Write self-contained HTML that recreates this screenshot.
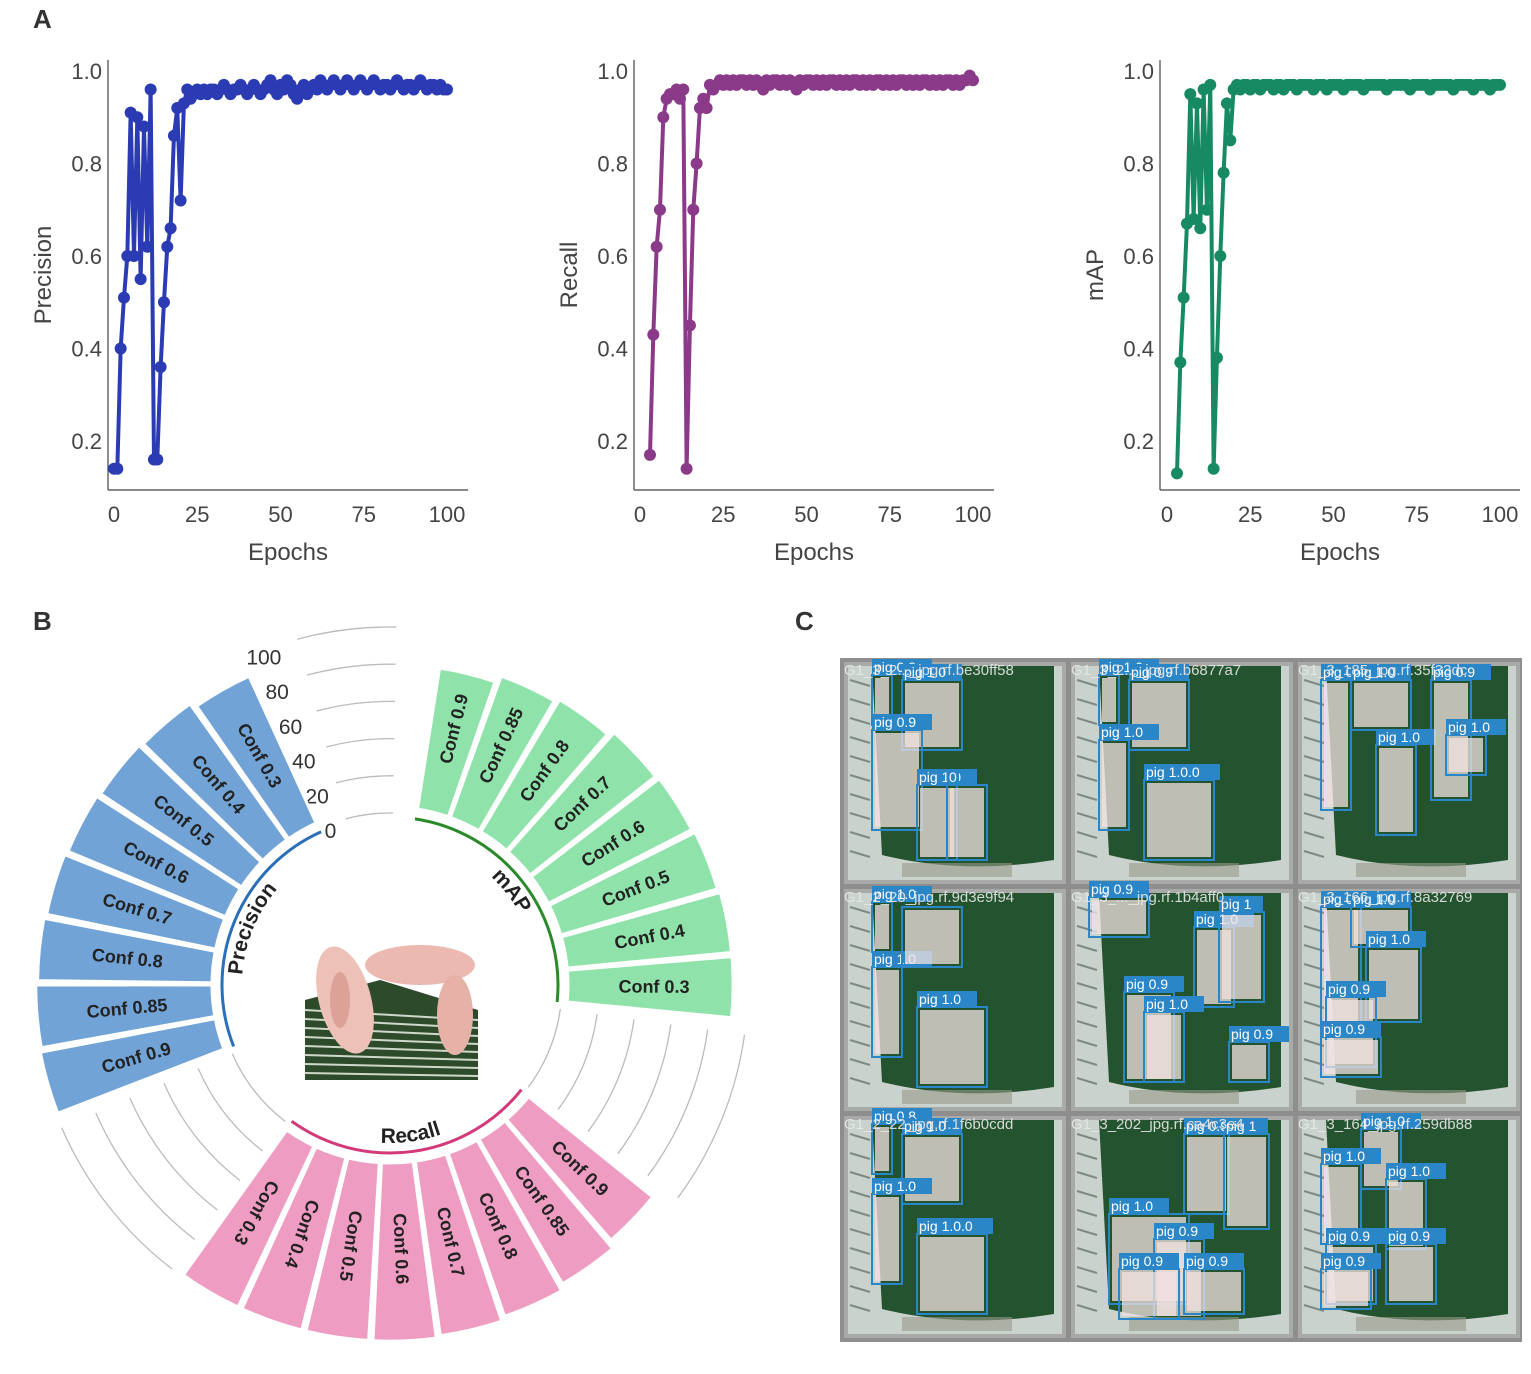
<!DOCTYPE html>
<html><head><meta charset="utf-8"><style>
body{margin:0;background:#fff;}
svg{display:block;font-family:"Liberation Sans","DejaVu Sans",sans-serif;}
</style></head><body>
<svg id="fig" width="1531" height="1374" viewBox="0 0 1531 1374">
<text x="33" y="28" font-size="26" font-weight="bold" fill="#333">A</text>
<text x="33" y="630" font-size="26" font-weight="bold" fill="#333">B</text>
<text x="795" y="630" font-size="26" font-weight="bold" fill="#333">C</text>
<g id="panelA"></g>
<g id="panelB"></g>
<g id="panelC"></g>
</svg>
<script>
const NS="http://www.w3.org/2000/svg";
const epochTicks=[0,25,50,75,100];
const yTicks=[0.2,0.4,0.6,0.8,1.0];
const precisionStart=0;
const precisionValues=[0.14,0.14,0.40,0.51,0.60,0.91,0.60,0.90,0.55,0.88,0.62,0.96,0.16,0.16,0.36,0.50,0.62,0.66,0.86,0.92,0.72,0.93,0.96,0.94,0.95,0.96,0.95,0.96,0.95,0.96,0.96,0.95,0.96,0.97,0.96,0.95,0.96,0.96,0.97,0.96,0.95,0.96,0.97,0.96,0.95,0.96,0.97,0.98,0.96,0.95,0.97,0.96,0.98,0.97,0.95,0.94,0.96,0.97,0.95,0.96,0.97,0.96,0.98,0.97,0.96,0.97,0.98,0.97,0.96,0.97,0.98,0.97,0.96,0.97,0.98,0.97,0.96,0.97,0.98,0.97,0.96,0.97,0.97,0.96,0.97,0.98,0.97,0.96,0.97,0.97,0.96,0.97,0.98,0.97,0.96,0.97,0.97,0.96,0.97,0.96,0.96];
const recallStart=3;
const recallValues=[0.17,0.43,0.62,0.70,0.90,0.94,0.95,0.95,0.96,0.94,0.96,0.14,0.45,0.70,0.80,0.92,0.94,0.92,0.97,0.96,0.97,0.98,0.97,0.98,0.97,0.98,0.97,0.98,0.98,0.97,0.98,0.97,0.98,0.97,0.96,0.98,0.97,0.98,0.98,0.97,0.98,0.97,0.98,0.97,0.96,0.98,0.97,0.98,0.98,0.97,0.98,0.97,0.98,0.97,0.98,0.98,0.97,0.98,0.97,0.98,0.97,0.98,0.98,0.97,0.98,0.97,0.98,0.97,0.98,0.98,0.97,0.98,0.97,0.98,0.97,0.98,0.98,0.97,0.98,0.97,0.98,0.97,0.98,0.98,0.97,0.98,0.97,0.98,0.97,0.98,0.98,0.97,0.98,0.97,0.98,0.98,0.99,0.98];
const mapStart=3;
const mapValues=[0.13,0.37,0.51,0.67,0.95,0.68,0.93,0.66,0.96,0.70,0.97,0.14,0.38,0.60,0.78,0.93,0.85,0.96,0.97,0.96,0.97,0.97,0.96,0.97,0.97,0.96,0.97,0.97,0.97,0.96,0.97,0.97,0.96,0.97,0.97,0.97,0.96,0.97,0.97,0.97,0.97,0.96,0.97,0.97,0.97,0.96,0.97,0.97,0.97,0.97,0.96,0.97,0.97,0.97,0.97,0.97,0.96,0.97,0.97,0.97,0.97,0.97,0.97,0.96,0.97,0.97,0.97,0.97,0.97,0.97,0.96,0.97,0.97,0.97,0.97,0.97,0.96,0.97,0.97,0.97,0.97,0.97,0.97,0.96,0.97,0.97,0.97,0.97,0.97,0.96,0.97,0.97,0.97,0.97,0.96,0.97,0.97,0.97];

const groupNames=["mAP","Recall","Precision"];
const confLabels=["Conf 0.9","Conf 0.85","Conf 0.8","Conf 0.7","Conf 0.6","Conf 0.5","Conf 0.4","Conf 0.3"];
const mapBarValues=[80,84,86,89,90,91,92,92];
const recallBarValues=[89,93,96,98,99,99,99,99];
const precisionBarValues=[99,98,97,96,95,94,93,90];
const radialTicks=[0,20,40,60,80,100];

function el(tag,attrs,parent,text){const e=document.createElementNS(NS,tag);for(const k in attrs)e.setAttribute(k,attrs[k]);if(text!==undefined)e.textContent=text;parent.appendChild(e);return e;}

// ---------- Panel A ----------
const A=document.getElementById('panelA');
const charts=[
 {ax:108,x0:114,label:"Precision",color:"#2b3bb3",start:precisionStart,vals:precisionValues,name:"precision"},
 {ax:634,x0:640,label:"Recall",color:"#8b3a8a",start:recallStart,vals:recallValues,name:"recall"},
 {ax:1160,x0:1167,label:"mAP",color:"#178a63",start:mapStart,vals:mapValues,name:"map"}];
charts.forEach(c=>{
 const g=el('g',{},A);
 
 
 const xs=e=>c.x0+e*3.33;
 const ys=v=>71+(1.0-v)*462.5;
 const ya=el('line',{x1:c.ax,y1:60,x2:c.ax,y2:490,stroke:"#444","stroke-width":1.2},g);
 
 const xa=el('line',{x1:c.ax,y1:490,x2:c.ax+360,y2:490,stroke:"#444","stroke-width":1.2},g);
 
 yTicks.forEach(t=>{const tx=el('text',{x:c.ax-6,y:ys(t)+8,"font-size":22,fill:"#444","text-anchor":"end"},g,t.toFixed(1));
  });
 epochTicks.forEach(t=>{const tx=el('text',{x:xs(t),y:522,"font-size":22,fill:"#444","text-anchor":"middle"},g,String(t));
  });
 const xt=el('text',{x:c.ax+180,y:560,"font-size":24,fill:"#444","text-anchor":"middle"},g,"Epochs");
 
 const yt=el('text',{x:0,y:0,"font-size":24,fill:"#444","text-anchor":"middle",transform:`translate(${c.ax-57},275) rotate(-90)`},g,c.label);
 
 const pts=c.vals.map((v,i)=>[xs(c.start+i),ys(v)]);
 const ln=el('polyline',{points:pts.map(p=>p.join(',')).join(' '),fill:"none",stroke:c.color,"stroke-width":4,"stroke-linejoin":"round"},g);
 
 pts.forEach(p=>{const d=el('circle',{cx:p[0],cy:p[1],r:6,fill:c.color},g);
  });
});

// ---------- Panel B ----------
const B=document.getElementById('panelB');
const cx=390,cy=985,rIn=172;
const rv=v=>rIn+v*1.86;
const slot=360/33;
function pt(r,a){const t=a*Math.PI/180;return [cx+r*Math.sin(t),cy-r*Math.cos(t)];}
function arc(r,a1,a2){const p1=pt(r,a1),p2=pt(r,a2);const large=Math.abs(a2-a1)>180?1:0;const sw=a2>a1?1:0;return `M${p1[0]},${p1[1]} A${r},${r} 0 ${large} ${sw} ${p2[0]},${p2[1]}`;}
function sector(r1,r2,a1,a2){const p1=pt(r1,a1),p2=pt(r2,a1),p3=pt(r2,a2),p4=pt(r1,a2);return `M${p1} L${p2} A${r2},${r2} 0 0 1 ${p3} L${p4} A${r1},${r1} 0 0 0 ${p1}Z`;}
const gaps=[[-22,3],[96,128.5],[215.5,248.5]];
gaps.forEach((gp,gi)=>radialTicks.forEach(t=>{
 const a=el('path',{d:arc(rv(t),gp[0]+(gi==0?7:2),gp[1]-2),fill:"none",stroke:"#bbb","stroke-width":1.3},B);
 }));
radialTicks.forEach(t=>{const p=pt(rv(t)-6,-21);
 const tx=el('text',{x:p[0],y:p[1]+8,"font-size":21,fill:"#333","text-anchor":"middle"},B,String(t));
 });
const groups=[
 {name:"map",vals:mapBarValues,fill:"#8fe3aa",arc:"#2a8a2a",start:14},
 {name:"recall",vals:recallBarValues,fill:"#ee9cc2",arc:"#d23a7a",start:14+11*slot},
 {name:"precision",vals:precisionBarValues,fill:"#72a3d6",arc:"#2a6fb8",start:14+22*slot}];
groups.forEach((gr,gi)=>{
 gr.vals.forEach((v,i)=>{
  const a=gr.start+i*slot;
  const s=el('path',{d:sector(rIn+6,rv(v),a-slot/2+0.35,a+slot/2-0.35),fill:gr.fill,stroke:"#fff","stroke-width":3},B);
  
  const p=pt(rIn+92,a);let rot=a-90;if(a>225)rot+=180;
  const tx=el('text',{x:p[0],y:p[1],"font-size":18,"font-weight":"bold",fill:"#222","text-anchor":"middle","dominant-baseline":"central",transform:`rotate(${rot} ${p[0]} ${p[1]})`},B,confLabels[i]);
  
 });
 const a1=gr.start-slot/2,a2=gr.start+7.5*slot;
 const ga=el('path',{d:arc(168,a1,a2),fill:"none",stroke:gr.arc,"stroke-width":3},B);
 
 const mid=(a1+a2)/2;const id='tp'+gi;
 if(gr.name==="recall"){el('path',{id:id,d:arc(158,mid+60,mid-60),fill:"none"},B);}
 else{el('path',{id:id,d:arc(148,mid-60,mid+60),fill:"none"},B);}
 const t=el('text',{"font-size":21,"font-weight":"bold",fill:"#222"},B);
 
 el('textPath',{href:'#'+id,startOffset:"50%","text-anchor":"middle"},t,groupNames[gi]);
});
const pic=el('g',{},B);
el('rect',{x:305,y:945,width:173,height:135,fill:"#fff"},pic);
el('path',{d:"M305,1000 L380,980 L478,1010 L478,1080 L305,1080Z",fill:"#2d4a2a"},pic);
for(let i=0;i<8;i++)el('line',{x1:305,y1:1010+i*9,x2:478,y2:1020+i*8,stroke:"#cfd8c8","stroke-width":2},pic);
el('ellipse',{cx:345,cy:1000,rx:26,ry:55,fill:"#eec1b8",transform:"rotate(-15 345 1000)"},pic);
el('ellipse',{cx:420,cy:965,rx:55,ry:20,fill:"#ebb9b0"},pic);
el('ellipse',{cx:455,cy:1015,rx:18,ry:40,fill:"#e6b2a8"},pic);
el('ellipse',{cx:340,cy:1000,rx:10,ry:28,fill:"#c98478",opacity:0.5},pic);

// ---------- Panel C ----------
const C=document.getElementById('panelC');
el('rect',{x:840,y:658,width:682,height:684,fill:"#8e8e8e"},C);
const titles=["G1_3_2..._jpg.rf.be30ff58","G1_3_2..._jpg.rf.b6877a7","G1_3_185_jpg.rf.35f33dc","G1_2_20_jpg.rf.9d3e9f94","G1_3_..._jpg.rf.1b4aff0","G1_3_166_jpg.rf.8a32769","G1_2_22_jpg.rf.1f6b0cdd","G1_3_202_jpg.rf.ca4c3e4","G1_3_164_jpg.rf.259db88"];
const boxes=[
 [[30,15,20,50,"pig 0.9"],[60,20,60,70,"pig 1.0"],[30,70,50,100,"pig 0.9"],[75,125,40,75,"pig 1.0"],[105,125,40,75,"0"]],
 [[30,15,20,50,"pig 1.0"],[60,20,60,70,"pig 0.9"],[30,80,30,90,"pig 1.0"],[75,120,70,80,"pig 1.0.0"]],
 [[25,20,30,130,"pig 0.9"],[55,20,60,50,"pig 1.0"],[80,85,40,90,"pig 1.0"],[135,20,40,120,"pig 0.9"],[150,75,40,40,"pig 1.0"]],
 [[30,15,20,50,"pig 1.0"],[30,80,30,90,"pig 1.0"],[75,120,70,80,"pig 1.0"],[60,20,60,60,""]],
 [[20,10,60,40,"pig 0.9"],[125,40,40,80,"pig 1.0"],[150,25,45,90,"pig 1"],[55,105,50,90,"pig 0.9"],[75,125,40,70,"pig 1.0"],[160,155,40,40,"pig 0.9"]],
 [[25,20,40,130,"pig 0.9"],[55,20,60,40,"pig 1.0"],[70,60,55,75,"pig 1.0"],[30,110,50,70,"pig 0.9"],[25,150,60,40,"pig 0.9"]],
 [[30,10,20,50,"pig 0.8"],[60,20,60,70,"pig 1.0"],[30,80,30,90,"pig 1.0"],[75,120,70,80,"pig 1.0.0"]],
 [[115,20,45,80,"pig 0.9"],[155,20,45,95,"pig 1"],[40,100,80,90,"pig 1.0"],[85,125,50,80,"pig 0.9"],[50,155,60,50,"pig 0.9"],[115,155,60,45,"pig 0.9"]],
 [[65,15,40,60,"pig 1.0"],[25,50,40,80,"pig 1.0"],[90,65,40,70,"pig 1.0"],[30,130,50,60,"pig 0.9"],[90,130,50,60,"pig 0.9"],[25,155,50,40,"pig 0.9"]]];
for(let r=0;r<3;r++)for(let c=0;c<3;c++){
 const x=842+c*227,y=660+r*227,k=r*3+c;
 const g=el('g',{},C);
 el('rect',{x:x+2,y:y+2,width:222,height:222,fill:"#a8aaa8"},g);
 el('rect',{x:x+6,y:y+6,width:214,height:214,fill:"#c9d2cd"},g);
 el('path',{d:`M${x+30},${y+6} L${x+212},${y+6} L${x+212},${y+200} Q${x+120},${y+215} ${x+40},${y+195} Z`,fill:"#24532f"},g);
 for(let i=0;i<10;i++)el('line',{x1:x+8,y1:y+20+i*19,x2:x+28,y2:y+26+i*19,stroke:"#7f8a84","stroke-width":2},g);
 el('rect',{x:x+60,y:y+203,width:110,height:14,fill:"#9a9a8a",opacity:0.6},g);
 boxes[k].forEach(b=>{
  el('rect',{x:x+b[0]+3,y:y+b[1]+3,width:b[2]-6,height:b[3]-6,fill:"#f1e2e2",opacity:0.75},g);
  const bb=el('rect',{x:x+b[0],y:y+b[1],width:b[2],height:b[3],fill:"none",stroke:"#2b86c7","stroke-width":2},g);
  
  if(b[4]){el('rect',{x:x+b[0],y:y+b[1]-16,width:b[4].length*8+4,height:16,fill:"#2b86c7"},g);
   const lt=el('text',{x:x+b[0]+2,y:y+b[1]-3,"font-size":14,fill:"#fff"},g,b[4]);
   }
 });
 const tt=el('text',{x:x+2,y:y+15,"font-size":15,fill:"#e8e8e8",opacity:0.9},g,titles[k]);
 
}
</script>
</body></html>
